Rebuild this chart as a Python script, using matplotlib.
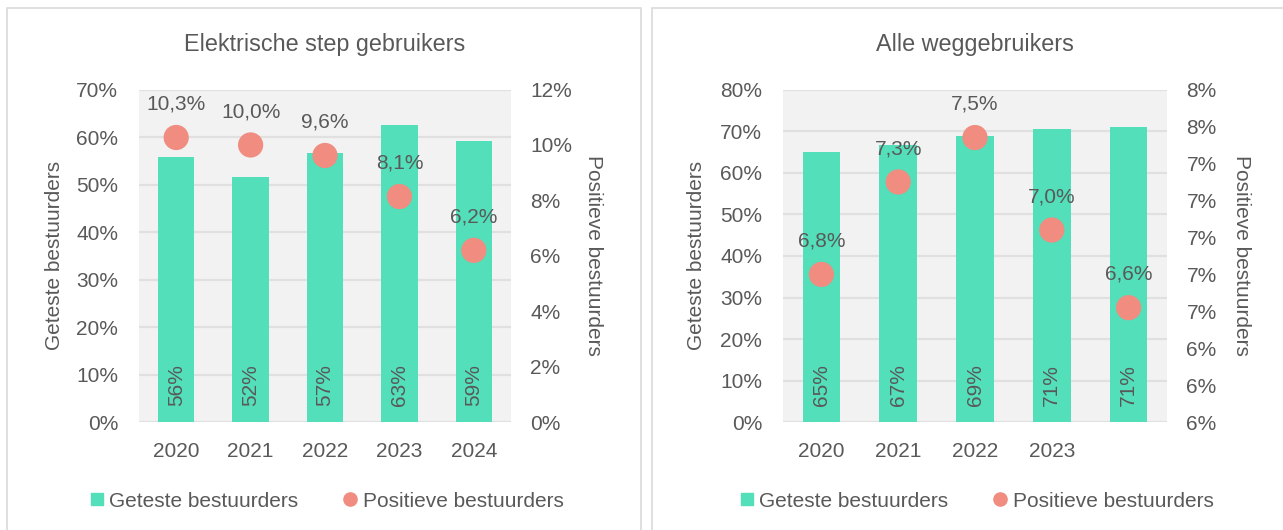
import matplotlib
matplotlib.use("Agg")
import matplotlib.pyplot as plt
from matplotlib.lines import Line2D
from matplotlib.patches import Rectangle

# data
years_step = ["2020", "2021", "2022", "2023", "2024"]
tested_step = [55.8, 51.7, 56.6, 62.6, 59.2]
positive_step = [10.27, 10.0, 9.62, 8.14, 6.2]

years_all = ["2020", "2021", "2022", "2023", ""]
tested_all = [64.9, 66.7, 68.8, 70.6, 71.0]
positive_all = [6.8, 7.3, 7.54, 7.04, 6.62]

BAR = "#52dfba"
DOT = "#f08c80"
TXT = "#595959"
GRID = "#e0e0e0"

plt.rcParams["font.family"] = ["Liberation Sans", "DejaVu Sans"]
plt.rcParams["font.size"] = 15
plt.rcParams["text.color"] = TXT

W, H = 1283, 530
fig = plt.figure(figsize=(W / 100, H / 100), dpi=100)

# panel borders
for x0, x1 in [(7, 641), (652, 1290)]:
    fig.patches.append(Rectangle((x0 / W, -0.05), (x1 - x0) / W, 1.05 - 8 / H,
                                 transform=fig.transFigure, fill=False,
                                 edgecolor="#d9d9d9", lw=1.2))


def pct(v, pos=None):
    return f"{v:.0f}%"


def panel(rect, title, years, tested, positive, lmax, rlim, rticks,
          lab_l, lab_r):
    ax = fig.add_axes(rect)
    x = list(range(len(years)))
    ax.set_facecolor("#f2f2f2")
    ax.bar(x, tested, width=0.49, color=BAR, zorder=2)
    for xi, v in zip(x, tested):
        ax.annotate(f"{v:.0f}%", (xi, 0), xytext=(0, 12), textcoords="offset points",
                    rotation=90, ha="center", va="bottom", color=TXT, zorder=3)
    ax.set_xlim(-0.5, len(years) - 0.5)
    ax.set_ylim(0, lmax)
    ax.set_yticks(range(0, lmax + 1, 10))
    ax.yaxis.set_major_formatter(pct)
    ax.set_xticks(x)
    ax.set_xticklabels(years)
    ax.grid(axis="y", color=GRID, lw=1.6, zorder=0)
    ax.set_axisbelow(True)
    for s in ax.spines.values():
        s.set_visible(False)
    ax.tick_params(axis="y", length=0, pad=15, colors=TXT)
    ax.tick_params(axis="x", length=0, pad=14, colors=TXT)
    ax.set_ylabel("Geteste bestuurders", va="center", color=TXT)
    ax.yaxis.set_label_coords(lab_l, 0.5)

    ax2 = ax.twinx()
    ax2.scatter(x, positive, s=330, color=DOT, zorder=4, edgecolor="none")
    for xi, v in zip(x, positive):
        ax2.annotate(f"{v:.1f}%".replace(".", ","), (xi, v), xytext=(0, 24),
                     textcoords="offset points", ha="center", va="center", color=TXT)
    ax2.set_ylim(*rlim)
    ax2.set_yticks(rticks)
    ax2.yaxis.set_major_formatter(pct)
    for s in ax2.spines.values():
        s.set_visible(False)
    ax2.tick_params(axis="y", length=0, pad=14, colors=TXT)
    ax2.set_ylabel("Positieve bestuurders", rotation=270, va="center", color=TXT)
    ax2.yaxis.set_label_coords(lab_r, 0.5)

    ax.text(0.5, 1 + 45 / 332.8, title, transform=ax.transAxes, ha="center",
            va="center", color=TXT, fontsize=16.8)

    handles = [
        Line2D([], [], marker="s", ls="none", color=BAR, markersize=9),
        Line2D([], [], marker="o", ls="none", color=DOT, markersize=9.5),
    ]
    ax.legend(handles, ["Geteste bestuurders", "Positieve bestuurders"],
              loc="center", bbox_to_anchor=(0.5, -0.237), ncol=2, frameon=False,
              handletextpad=0.1, columnspacing=2.0, handlelength=1.0,
              labelcolor=TXT)
    return ax


bot = 1 - 422.3 / H
hgt = 332.8 / H
panel([139 / W, bot, 372 / W, hgt], "Elektrische step gebruikers",
      years_step, tested_step, positive_step, 70, (0, 12), list(range(0, 13, 2)),
      -0.226, 1.223)
panel([783 / W, bot, 384 / W, hgt], "Alle weggebruikers",
      years_all, tested_all, positive_all, 80, (6.0, 7.8),
      [6.0 + 0.2 * i for i in range(10)], -0.224, 1.195)

fig.savefig("out.png", dpi=100, facecolor="white")
